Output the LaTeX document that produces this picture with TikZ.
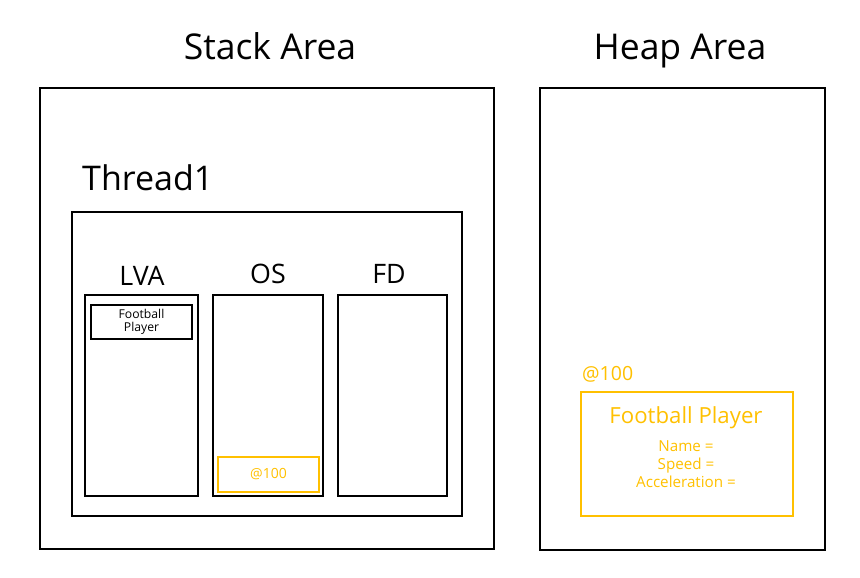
\documentclass[tikz,border=0pt]{standalone}
\usepackage{fontspec}
\setmainfont{Open Sans}
\definecolor{gold}{HTML}{FFC000}
\begin{document}
\begin{tikzpicture}[x=1pt,y=-1pt,
  box/.style={draw=black,line width=2pt},
  obox/.style={draw=gold,line width=2pt},
  lbl/.style={inner sep=0pt,anchor=center}]
\useasboundingbox (0,0) rectangle (860,578);
\draw[box] (40,88) rectangle (494,549);
\draw[box] (540,88) rectangle (825,550);
\draw[box] (72,212) rectangle (462,516);
\draw[box] (85,295) rectangle (198,496);
\draw[box] (213,295) rectangle (323,496);
\draw[box] (338,295) rectangle (447,496);
\draw[box] (91,305) rectangle (192,339);
\draw[obox] (218,457) rectangle (319,492);
\draw[obox] (581,392) rectangle (793,516);
\node[lbl,anchor=base,font=\fontsize{35.5}{40}\selectfont] (stack) at (270,60) {Stack Area};
\node[lbl,anchor=base,font=\fontsize{35.5}{40}\selectfont] (heap) at (680,60) {Heap Area};
\node[lbl,anchor=west,font=\fontsize{34}{40}\selectfont] (thread) at (82,178) {Thread1};
\node[lbl,font=\fontsize{26.8}{30}\selectfont] (lva) at (142,276) {LVA};
\node[lbl,font=\fontsize{26.8}{30}\selectfont] (os) at (268,274) {OS};
\node[lbl,font=\fontsize{26.8}{30}\selectfont] (fd) at (389,274) {FD};
\node[lbl,align=center,font=\fontsize{12.2}{13}\selectfont] (fp) at (141.5,321.5) {Football\\Player};
\node[lbl,text=gold,font=\fontsize{14}{16}\selectfont] (addr) at (268.5,474.5) {@100};
\node[lbl,anchor=west,text=gold,font=\fontsize{19.5}{22}\selectfont] (haddr) at (582,374) {@100};
\node[lbl,text=gold,font=\fontsize{22.2}{26}\selectfont] (hfp) at (686,418) {Football Player};
\node[lbl,text=gold,align=center,font=\fontsize{15.2}{18}\selectfont] (fields) at (686,464) {Name =\\Speed =\\Acceleration =};
\end{tikzpicture}
\end{document}
